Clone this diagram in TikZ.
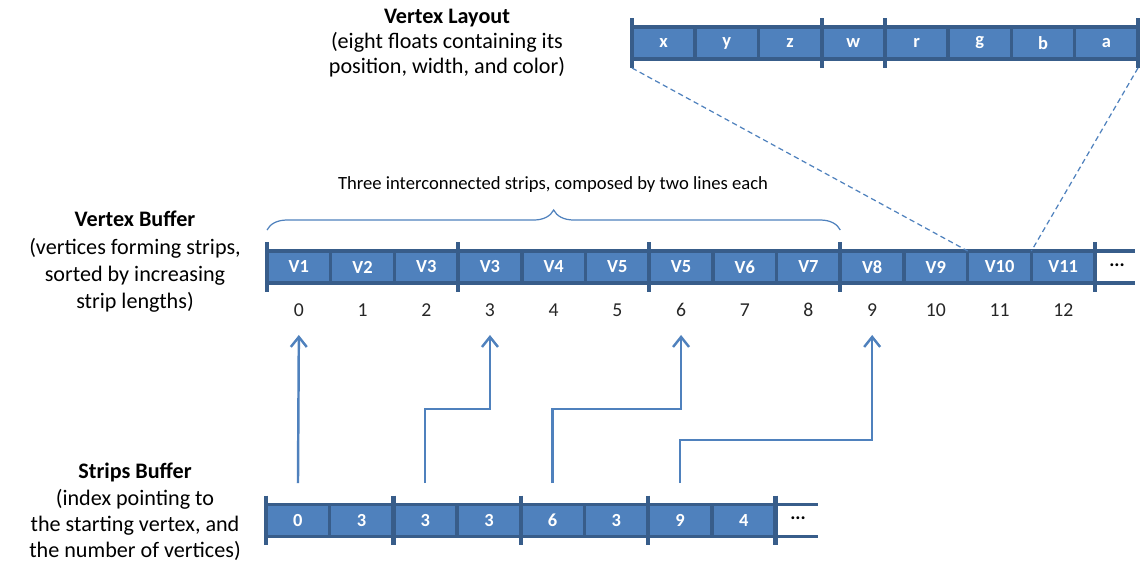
\documentclass[tikz,border=0pt]{standalone}
\usepackage{fontspec}
\setmainfont{Carlito}
\usetikzlibrary{arrows.meta,decorations.pathreplacing}
\definecolor{cellblue}{HTML}{4F81BD}
\definecolor{celledge}{HTML}{385D8A}

\begin{document}
\begin{tikzpicture}[x=0.02cm,y=-0.02cm]
		\tikzstyle{every node}=[font=\fontsize{12.6}{14.4}\selectfont]
		\tikzstyle{cell}=[draw=celledge, fill=cellblue, line width=2pt, outer sep=0pt, inner sep=0pt, minimum width=1.274cm, minimum height=0.64cm, text=white, font=\fontsize{10.5}{12}\selectfont\bfseries]
		\tikzstyle{idx}=[text=black!85, font=\fontsize{11.2}{13}\selectfont]
		\tikzstyle{dots}=[font=\fontsize{11}{12}\selectfont\bfseries]
		\tikzstyle{title}=[align=center]
		\tikzstyle{tick}=[draw=celledge, line width=2.4pt, shorten <=-0.18cm, shorten >=-0.18cm]
		\tikzstyle{rail}=[draw=celledge, line width=2pt]
		\tikzstyle{ptr}=[draw=cellblue, line width=1.4pt, shorten <=0.43cm, -{Straight Barb[length=0.2cm,width=0.32cm]}]
		\tikzstyle{link}=[draw=cellblue, line width=0.7pt, dash pattern=on 3pt off 2pt]
		\useasboundingbox (0,0) rectangle (1140,568);

		% vertex layout
		\node[title] (layouttitle) at (447,43) {\textbf{Vertex Layout}\\(eight floats containing its\\position, width, and color)};
		\foreach \t [count=\i from 0] in {x,y,z,w,r,g,b,a}
			\node[cell, minimum width=1.265cm] (l\i) at (663.6+63.25*\i,43) {\t};
		\draw[tick] (l0.north west) -- (l0.south west);
		\foreach \i in {2,3,7}
			\draw[tick] (l\i.north east) -- (l\i.south east);

		% vertex buffer
		\node[title, font=\fontsize{12.6}{15.6}\selectfont] (vbuftitle) at (135,262) {\textbf{Vertex Buffer}\\(vertices forming strips,\\sorted by increasing\\strip lengths)};
		\foreach \t [count=\i from 0] in {V1,V2,V3,V3,V4,V5,V5,V6,V7,V8,V9,V10,V11} {
			\node[cell] (v\i) at (298.85+63.7*\i,267) {\t};
			\node[idx] (idx\i) at (298.85+63.7*\i,310) {\i};
		}
		\draw[tick] (v0.north west) -- (v0.south west);
		\foreach \i in {2,5,8,12}
			\draw[tick] (v\i.north east) -- (v\i.south east);
		\draw[rail] (v12.north east) -- ++(40,0);
		\draw[rail] (v12.south east) -- ++(40,0);
		\node[dots] (vdots) at (1117,265) {...};

		% brace over the strips
		\draw[cellblue, line width=0.7pt, decorate, decoration={brace, amplitude=0.4cm}] ([yshift=0.42cm]v0.north west) -- ([yshift=0.42cm]v8.north east);
		\node[font=\fontsize{10.6}{12}\selectfont] (bracetext) at (553,185) {Three interconnected strips, composed by two lines each};

		% strips buffer
		\node[title, font=\fontsize{12.6}{15}\selectfont] (sbuftitle) at (135,512) {\textbf{Strips Buffer}\\(index pointing to\\the starting vertex, and\\the number of vertices)};
		\foreach \t [count=\i from 0] in {0,3,3,3,6,3,9,4}
			\node[cell] (s\i) at (297.85+63.7*\i,520.5) {\t};
		\draw[tick] (s0.north west) -- (s0.south west);
		\foreach \i in {1,3,5,7}
			\draw[tick] (s\i.north east) -- (s\i.south east);
		\draw[rail] (s7.north east) -- ++(42,0);
		\draw[rail] (s7.south east) -- ++(42,0);
		\node[dots] (sdots) at (798,518) {...};

		% index pointers
		\coordinate (bendA) at (0,409);
		\coordinate (bendB) at (0,440);
		\draw[ptr] (s0.north) -- ([yshift=-0.5cm]idx0.center);
		\draw[ptr] (s2.north) -- (s2.north |- bendA) -- (idx3 |- bendA) -- ([yshift=-0.5cm]idx3.center);
		\draw[ptr] (s4.north) -- (s4.north |- bendA) -- (idx6 |- bendA) -- ([yshift=-0.5cm]idx6.center);
		\draw[ptr] (s6.north) -- (s6.north |- bendB) -- (idx9 |- bendB) -- ([yshift=-0.5cm]idx9.center);

		% layout of one vertex
		\draw[link] ([yshift=-0.18cm]l0.south west) -- (v11.north west);
		\draw[link] ([yshift=-0.18cm]l7.south east) -- (v12.north west);
	\end{tikzpicture}
\end{document}
